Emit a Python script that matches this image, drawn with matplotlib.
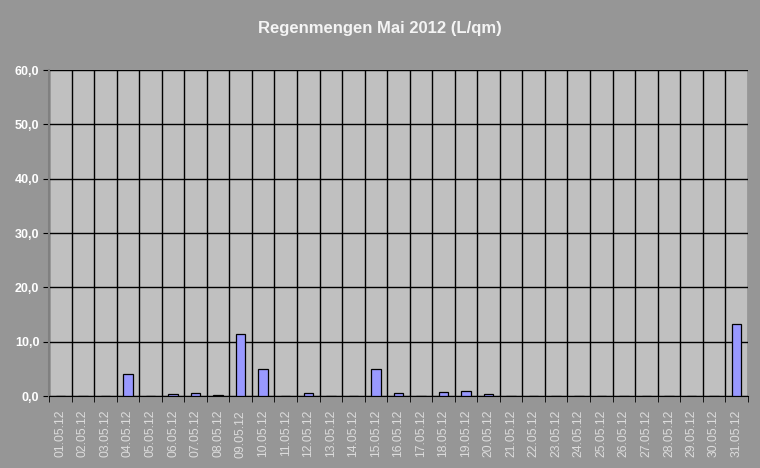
import matplotlib.pyplot as plt
import numpy as np

days = ["%02d.05.12" % d for d in range(1, 32)]
rain = [0, 0, 0, 4.0, 0, 0.3, 0.5, 0.2, 11.5, 5.0, 0, 0.5, 0, 0, 5.0,
        0.5, 0, 0.7, 1.0, 0.3, 0, 0, 0, 0, 0, 0, 0, 0, 0, 0, 13.3]
yticks = [0, 10, 20, 30, 40, 50, 60]

plt.rcParams['font.family'] = ['Liberation Sans', 'DejaVu Sans']

fig = plt.figure(figsize=(7.6, 4.68), dpi=100, facecolor='#969696')
ax = fig.add_axes([0.0645, 0.1538, 0.9195, 0.6966])
ax.set_facecolor('#C0C0C0')

x = np.arange(len(days))
ax.bar(x, rain, width=0.42, color='#9999FF', edgecolor='black', linewidth=0.9, zorder=3)

ax.set_xlim(-0.5, len(days) - 0.5)
ax.set_ylim(0, 60)
ax.set_yticks(yticks)
ax.set_yticklabels(["%d,0" % v for v in yticks], fontsize=9, fontweight='bold', color='white')
ax.set_xticks(x)
ax.set_xticklabels(days, rotation=90, fontsize=8.7, color='#DCDCDC')
ax.tick_params(axis='x', length=0, pad=10)
ax.set_xticks(np.arange(-0.5, len(days)), minor=True)
ax.tick_params(axis='x', which='minor', length=4, color='black', direction='out')
ax.tick_params(axis='y', length=4, color='black', direction='out', pad=3)

ax.grid(True, axis='y', color='black', linewidth=1.0, zorder=1)
ax.grid(True, axis='x', which='minor', color='black', linewidth=1.0, zorder=1)
ax.set_axisbelow(True)

for s in ['top', 'right']:
    ax.spines[s].set_visible(False)
ax.spines['left'].set_color('#808080')
ax.spines['left'].set_linewidth(1.5)
ax.spines['bottom'].set_color('black')

fig.text(0.5, 0.940, "Regenmengen Mai 2012 (L/qm)", ha='center', va='center',
         fontsize=12, fontweight='bold', color='#F4F4F4')

fig.savefig("out.png", dpi=100, facecolor=fig.get_facecolor())
